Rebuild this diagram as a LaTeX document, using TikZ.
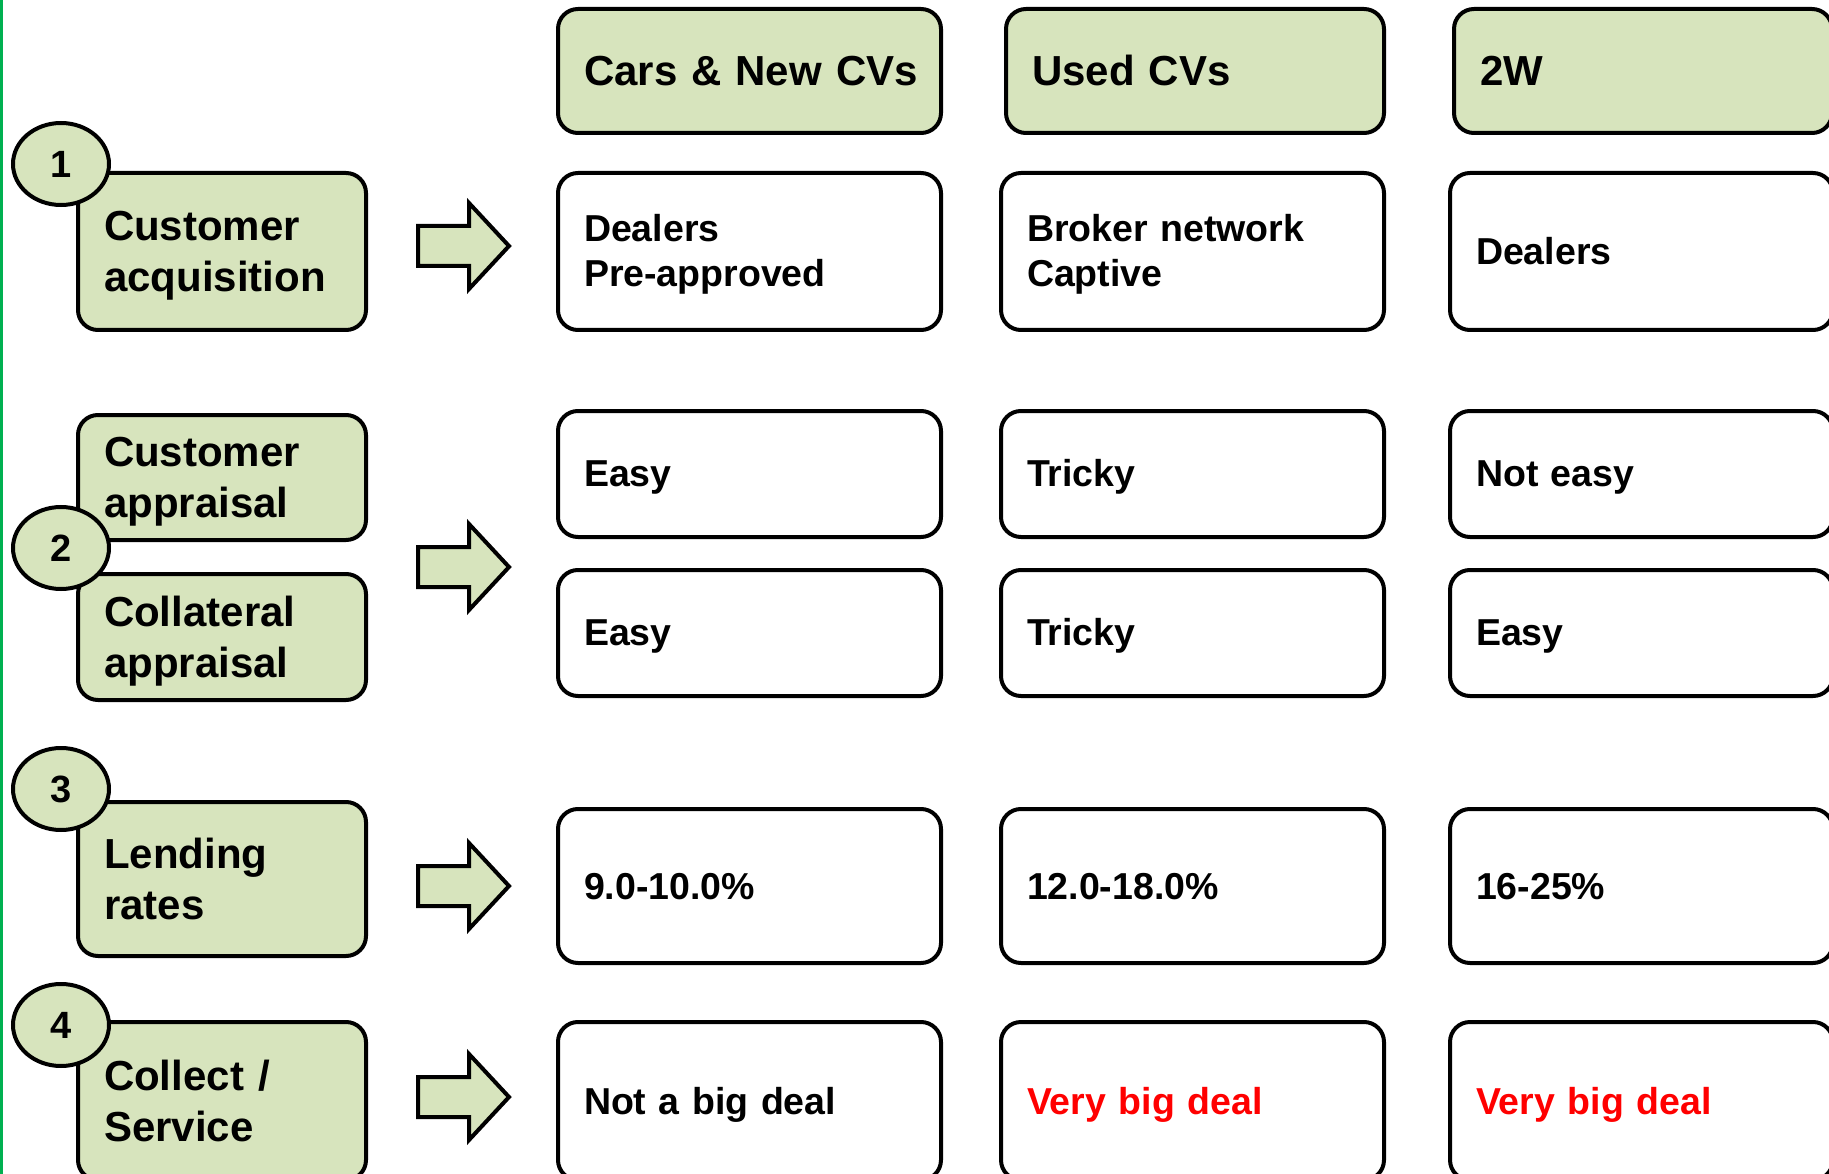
\documentclass[tikz,border=0pt]{standalone}
\usepackage{fontspec}
\setmainfont{Liberation Sans}
\usetikzlibrary{shapes.geometric}
\definecolor{stagegreen}{RGB}{215,228,189}
\definecolor{edgegreen}{RGB}{0,176,80}
\definecolor{dealred}{RGB}{255,0,0}
\newcommand\cellstrut{\rule[-0.212em]{0pt}{1.117em}}
\begin{document}
\begin{tikzpicture}[x=1pt, y=-1pt, line width=4pt,
  box/.style = {draw, rounded corners=20pt, inner xsep=26pt, inner ysep=0pt, align=left,
    execute at begin node=\cellstrut, execute at end node=\cellstrut,
    font=\bfseries\fontsize{37.5}{45}\selectfont},
  colhead/.style = {box, fill=stagegreen, minimum height=124pt, font=\bfseries\fontsize{42}{50}\selectfont},
  cell/.style = {box, fill=white, text width=331pt},
  stage/.style = {box, fill=stagegreen, text width=236pt, font=\bfseries\fontsize{42}{51}\selectfont},
  num/.style = {draw, ellipse, fill=stagegreen, minimum width=96pt, minimum height=82pt, inner sep=0pt,
    font=\bfseries\fontsize{38}{44}\selectfont},
  bigarrow/.style = {draw, fill=stagegreen, line join=miter}]
\clip (0,0) rectangle (1829,1174);
\fill[edgegreen] (0,0) rectangle (2.5,1174);
% column heads
\node[colhead, text width=331pt] (hcars) at (749.5,71) {\mbox{Cars \& New CVs}};
\node[colhead, text width=326pt] (hused) at (1195,71) {Used CVs};
\node[colhead, text width=326pt] (htwo) at (1643,71) {2W};
% stages
\node[stage, minimum height=157pt] (acq) at (222,251.5) {Customer\\acquisition};
\node[stage, minimum height=125pt] (capp) at (222,477.5) {Customer\\appraisal};
\node[stage, minimum height=126pt] (kapp) at (222,637) {Collateral\\appraisal};
\node[stage, minimum height=154pt] (rate) at (222,879) {Lending\\rates};
\node[stage, minimum height=158pt] (coll) at (222,1101) {Collect /\\Service};
\node[num] (n1) at (61,164) {1};
\node[num] (n2) at (61,548) {2};
\node[num] (n3) at (61,789) {3};
\node[num] (n4) at (61,1025) {4};
% cells
\node[cell, minimum height=157pt] (acqa) at (749.5,251.5) {Dealers\\Pre-approved};
\node[cell, minimum height=157pt] (acqb) at (1192.5,251.5) {Broker network\\Captive};
\node[cell, minimum height=157pt] (acqc) at (1641.5,251.5) {Dealers};
\node[cell, minimum height=126pt] (cappa) at (749.5,474) {Easy};
\node[cell, minimum height=126pt] (cappb) at (1192.5,474) {Tricky};
\node[cell, minimum height=126pt] (cappc) at (1641.5,474) {Not easy};
\node[cell, minimum height=126pt] (kappa) at (749.5,633) {Easy};
\node[cell, minimum height=126pt] (kappb) at (1192.5,633) {Tricky};
\node[cell, minimum height=126pt] (kappc) at (1641.5,633) {Easy};
\node[cell, minimum height=154pt] (ratea) at (749.5,886) {9.0-10.0\%};
\node[cell, minimum height=154pt] (rateb) at (1192.5,886) {12.0-18.0\%};
\node[cell, minimum height=154pt] (ratec) at (1641.5,886) {16-25\%};
\node[cell, minimum height=158pt] (colla) at (749.5,1101) {Not a big deal};
\node[cell, minimum height=158pt, text=dealred] (collb) at (1192.5,1101) {Very big deal};
\node[cell, minimum height=158pt, text=dealred] (collc) at (1641.5,1101) {Very big deal};
% block arrows
\foreach \y in {246,567,886,1097}
  \draw[bigarrow] (418,\y-20) -- (469,\y-20) -- (469,\y-43) -- (509,\y)
    -- (469,\y+43) -- (469,\y+20) -- (418,\y+20) -- cycle;
\end{tikzpicture}
\end{document}
